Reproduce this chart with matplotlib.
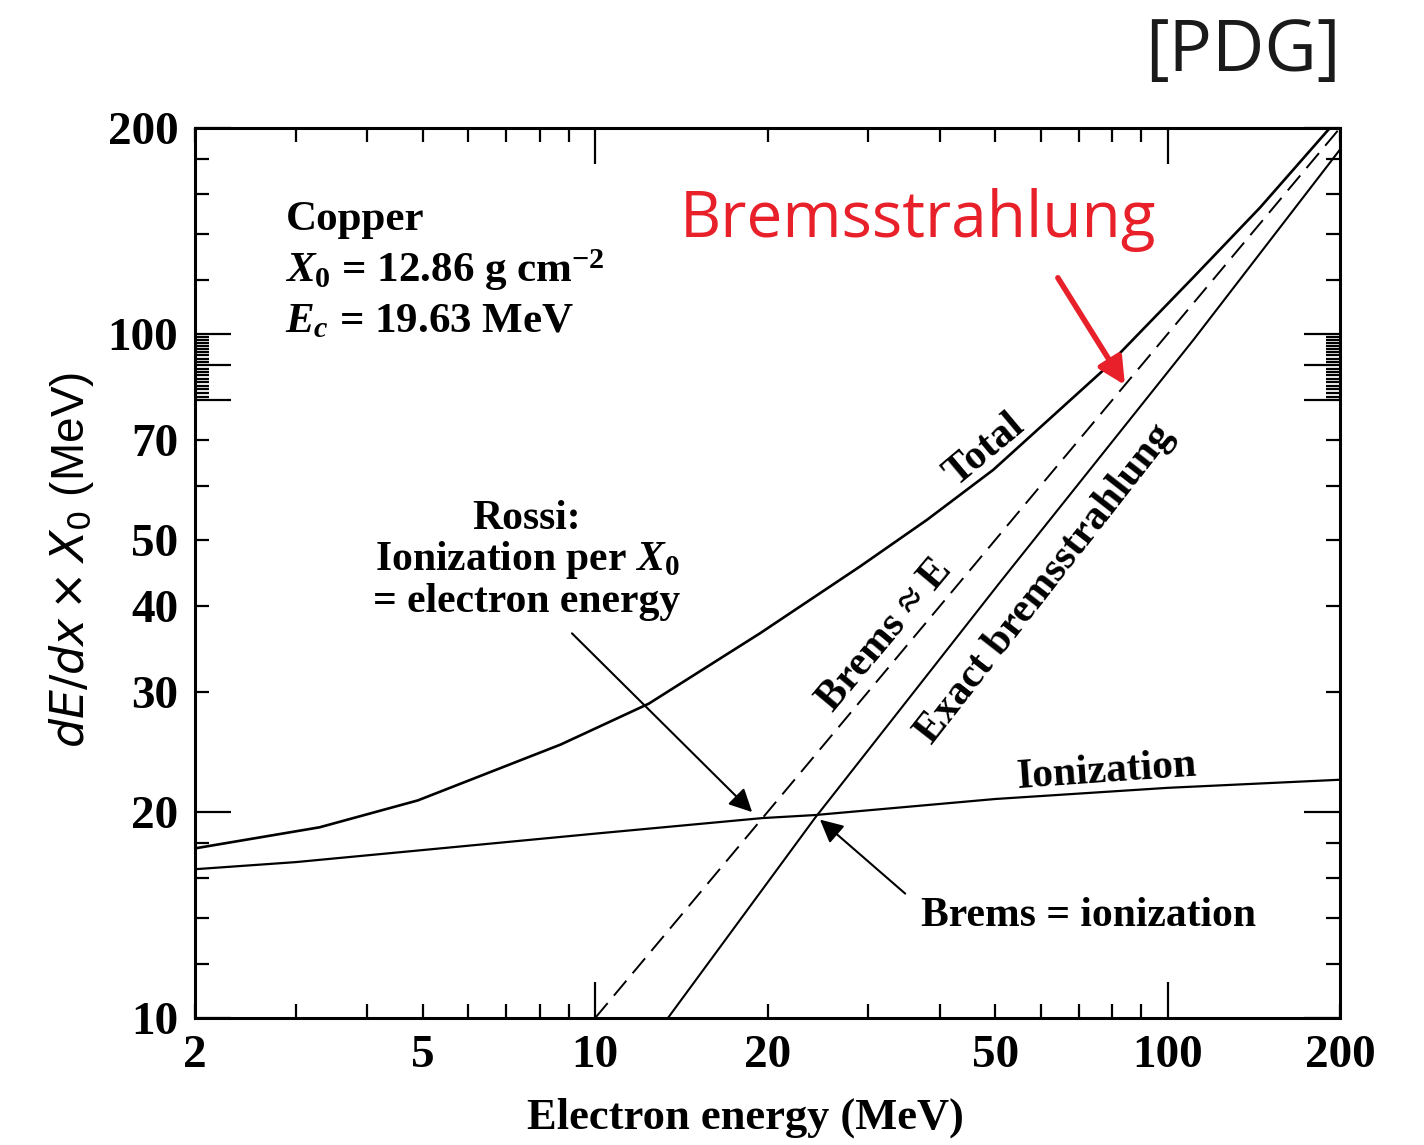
import matplotlib
matplotlib.use("Agg")
import matplotlib.pyplot as plt

# values (MeV)
ion_E = [2, 3, 5, 10, 19.6, 24.2, 50, 100, 200]
ion_v = [16.5, 16.9, 17.6, 18.6, 19.6, 19.8, 20.9, 21.7, 22.3]

total_E = [2, 3.3, 4.9, 8.7, 12.4, 19.4, 29, 38, 49.6, 77.2, 110.9, 145, 190, 200]
total_v = [17.7, 19.0, 20.8, 25.1, 28.8, 36.5, 45.7, 53.5, 63.3, 88.5, 121, 153, 198, 208]

brems_E = [13.4, 24.2, 50.9, 110.9, 200]
brems_v = [10, 19.6, 43.3, 98, 186]

approx_E = [10, 200]
approx_v = [10, 200]

xmajor = [10, 100]
xminor = [2, 3, 4, 5, 6, 7, 8, 9, 20, 30, 40, 50, 60, 70, 80, 90, 200]
xminor_lab = {2: "2", 5: "5", 20: "20", 50: "50", 200: "200"}
ymajor = [10, 20, 80, 90, 100, 200]
ymajor_lab = {10: "10", 20: "20", 100: "100", 200: "200"}
yminor = [12, 14, 16, 18, 30, 40, 50, 60, 70] + \
    [v for v in range(81, 100) if v != 90] + [120, 140, 160, 180]
yminor_lab = {30: "30", 40: "40", 50: "50", 70: "70"}

plt.rcParams['mathtext.fontset'] = 'custom'
plt.rcParams['mathtext.rm'] = 'Liberation Serif:bold'
plt.rcParams['mathtext.it'] = 'Liberation Serif:italic:bold'
plt.rcParams['mathtext.bf'] = 'Liberation Serif:bold'

serif = dict(family='Liberation Serif', weight='bold')

fig = plt.figure(figsize=(14.24, 11.45), dpi=100)
ax = fig.add_axes([195/1424, 1 - 1018/1145, 1145/1424, 890/1145])
ax.set_xscale('log')
ax.set_yscale('log')
ax.set_xlim(2, 200)
ax.set_ylim(10, 200)

ax.plot(total_E, total_v, 'k-', lw=1.9)
ax.plot(ion_E, ion_v, 'k-', lw=1.6)
ax.plot(brems_E, brems_v, 'k-', lw=1.5)
ax.plot(approx_E, approx_v, 'k-', lw=1.4, dashes=(10, 5))

ax.set_xticks(xmajor, labels=[str(v) for v in xmajor])
ax.set_xticks(xminor, labels=[xminor_lab.get(v, "") for v in xminor], minor=True)
ax.set_yticks(ymajor, labels=[ymajor_lab.get(v, "") for v in ymajor])
ax.set_yticks(yminor, labels=[yminor_lab.get(v, "") for v in yminor], minor=True)
ax.tick_params(which='both', direction='in', top=True, right=True, width=1.6,
               labelsize=34, pad=12)
ax.tick_params(which='major', length=26)
ax.tick_params(which='minor', length=10)
for lab in ax.get_xticklabels(which='both') + ax.get_yticklabels(which='both'):
    lab.set_fontfamily('Liberation Serif')
    lab.set_fontweight('bold')
for s in ax.spines.values():
    s.set_linewidth(2.2)

fig.text(745/1424, 1 - 1118/1145, "Electron energy (MeV)", ha='center', va='center',
         fontsize=32, **serif)
fig.text(72/1424, 1 - 560/1145, r"$dE/dx \times X_0$ (MeV)", rotation=90,
         ha='center', va='center', fontsize=33, family='Liberation Sans',
         math_fontfamily='dejavusans')

ax.text(0.079, 0.897, "Copper", transform=ax.transAxes, ha='left', va='center',
        fontsize=31, **serif)
ax.text(0.079, 0.840, r"$X_0$ = 12.86 g cm$^{-2}$", transform=ax.transAxes,
        ha='left', va='center', fontsize=31, **serif)
ax.text(0.079, 0.782, r"$E_c$ = 19.63 MeV", transform=ax.transAxes,
        ha='left', va='center', fontsize=31, **serif)

ax.text(7.6, 46.7, "Rossi:\nIonization per $X_0$\n= electron energy", ha='center',
        va='center', multialignment='center', fontsize=30, linespacing=1.05, **serif)
ax.annotate("", xy=(18.8, 20.0), xytext=(9.11, 36.5),
            arrowprops=dict(arrowstyle='-|>', color='k', lw=1.5, mutation_scale=35,
                            shrinkA=0, shrinkB=0))

ax.text(72.6, 14.1, "Brems = ionization", ha='center', va='center', fontsize=30, **serif)
ax.annotate("", xy=(24.7, 19.5), xytext=(34.8, 15.2),
            arrowprops=dict(arrowstyle='-|>', color='k', lw=1.5, mutation_scale=35,
                            shrinkA=0, shrinkB=0))

ax.text(78.4, 22.9, "Ionization", ha='center', va='center', rotation=4,
        rotation_mode='anchor', fontsize=30, **serif)
ax.text(48, 67.7, "Total", ha='center', va='center', rotation=40,
        rotation_mode='anchor', fontsize=30, **serif)
ax.text(32.1, 36.3, "Brems \u2248 E", ha='center', va='center', rotation=50,
        rotation_mode='anchor', fontsize=30, **serif)
ax.text(61.1, 43.0, "Exact bremsstrahlung", ha='center', va='center', rotation=52,
        rotation_mode='anchor', fontsize=30, **serif)

red = '#e8202a'
fig.text(918/1424, 1 - 220/1145, "Bremsstrahlung", ha='center', va='center',
         fontsize=46, family='Open Sans', color=red)
ax.annotate("", xy=(84.2, 84.2), xytext=(64.3, 120.8),
            arrowprops=dict(arrowstyle='-|>', color=red, lw=4, mutation_scale=40,
                            shrinkA=0, shrinkB=0))

fig.text(1243/1424, 1 - 52/1145, "[PDG]", ha='center', va='center', fontsize=52,
         family='Open Sans', color='#1a1a1a')

fig.savefig("out.png", dpi=100)
